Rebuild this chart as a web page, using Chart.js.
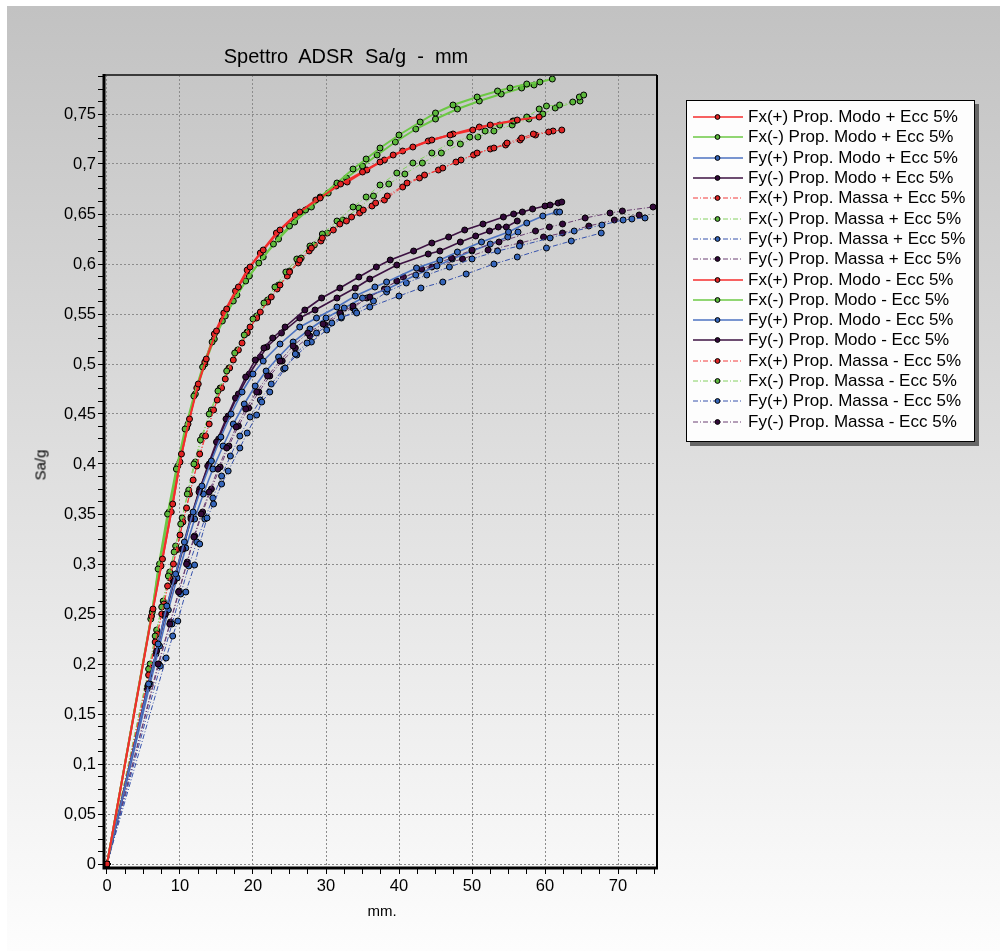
<!DOCTYPE html>
<html>
<head>
<meta charset="utf-8">
<script src="https://cdn.jsdelivr.net/npm/chart.js@4/dist/chart.umd.min.js"></script>
<style>
  body { margin: 0; width: 1000px; height: 951px; position: relative; overflow: hidden; background: #fff;
         font-family: "Liberation Sans", Arial, sans-serif; color: #000; }
  #bg { position: absolute; left: 7px; top: 6px; right: 0; bottom: 0;
        background: linear-gradient(#c2c2c2, #fdfdfd); }
  #chart { position: absolute; left: 0; top: 0; }
  #title { position: absolute; left: 0; width: 692px; top: 45px; text-align: center; font-size: 20px; white-space: pre; }
  #ytitle { position: absolute; left: 40px; top: 465px; font-size: 15px; font-weight: normal; color: #000;
            transform: translate(-50%, -50%) rotate(-90deg); }
  #xtitle { position: absolute; left: 382px; top: 910px; font-size: 15px; transform: translate(-50%, -50%); }
  #legend { position: absolute; left: 686px; top: 100px; width: 287px; height: 334px; background: #fdfdfd;
            border: 1px solid #000; box-shadow: 4px 4px 0 #666; padding-top: 6px; box-sizing: content-box; }
  .row { height: 20.3px; display: flex; align-items: center; font-size: 17px; white-space: nowrap; }
  .row svg { margin-left: 6px; margin-right: 5px; flex: none; }
</style>
</head>
<body>
<div id="bg"></div>
<canvas id="chart" width="692" height="951"></canvas>
<div id="title">Spettro  ADSR  Sa/g  -  mm</div>
<div id="ytitle">Sa/g</div>
<div id="xtitle">mm.</div>
<div id="legend"></div>
<script>
var seriesLabels = [
    'Fx(+) Prop. Modo + Ecc 5%', 'Fx(-) Prop. Modo + Ecc 5%', 'Fy(+) Prop. Modo + Ecc 5%', 'Fy(-) Prop. Modo + Ecc 5%',
    'Fx(+) Prop. Massa + Ecc 5%', 'Fx(-) Prop. Massa + Ecc 5%', 'Fy(+) Prop. Massa + Ecc 5%', 'Fy(-) Prop. Massa + Ecc 5%',
    'Fx(+) Prop. Modo - Ecc 5%', 'Fx(-) Prop. Modo - Ecc 5%', 'Fy(+) Prop. Modo - Ecc 5%', 'Fy(-) Prop. Modo - Ecc 5%',
    'Fx(+) Prop. Massa - Ecc 5%', 'Fx(-) Prop. Massa - Ecc 5%', 'Fy(+) Prop. Massa - Ecc 5%', 'Fy(-) Prop. Massa - Ecc 5%'
];

var xTickLabels = ['0', '10', '20', '30', '40', '50', '60', '70'];
var yTickLabels = ['0', '0,05', '0,1', '0,15', '0,2', '0,25', '0,3', '0,35', '0,4', '0,45', '0,5', '0,55', '0,6', '0,65', '0,7', '0,75'];

// [mm, Sa/g]
var fxPosModoPlus = [[0,0],[6.3,0.255],[7.6,0.305],[9.0,0.36],[10.2,0.41],[11.3,0.445],[12.5,0.48],[13.6,0.505],[15.0,0.533],[16.4,0.555],[18.0,0.577],[19.6,0.597],[21.4,0.614],[23.7,0.634],[26.4,0.652],[29.2,0.666],[32.0,0.680],[35.0,0.692],[37.4,0.702],[39.2,0.709],[41.9,0.717],[44.5,0.724],[47.0,0.729],[50.1,0.734],[52.5,0.739],[56.2,0.744],[59.2,0.747]];
var fxNegModoPlus = [[0,0],[6.2,0.252],[7.0,0.295],[8.3,0.35],[9.5,0.395],[10.7,0.435],[11.9,0.468],[13.1,0.497],[14.4,0.522],[15.8,0.543],[17.3,0.563],[19.0,0.583],[20.8,0.601],[22.8,0.62],[25.0,0.638],[27.2,0.654],[29.2,0.667],[31.5,0.681],[33.7,0.695],[35.5,0.705],[37.4,0.716],[40.0,0.729],[42.9,0.742],[45.0,0.751],[47.4,0.759],[50.7,0.767],[53.5,0.773],[55.2,0.776],[57.5,0.780],[59.3,0.782],[61.0,0.785]];
var fyPosModoPlus = [[0,0],[5.7,0.18],[7.0,0.22],[8.2,0.258],[9.4,0.29],[10.6,0.322],[11.8,0.352],[13.0,0.378],[14.3,0.403],[15.6,0.427],[17.0,0.45],[18.5,0.472],[20.0,0.49],[21.4,0.503],[23.7,0.52],[26.4,0.537],[28.7,0.546],[31.5,0.557],[34.0,0.568],[36.7,0.577],[38.3,0.582],[42.4,0.596],[45.6,0.604],[48.0,0.612],[51.3,0.622],[55.0,0.632],[57.5,0.641],[59.7,0.648],[61.6,0.652],[62.0,0.652]];
var fyNegModoPlus = [[0,0],[5.6,0.178],[6.8,0.213],[8.0,0.25],[9.2,0.283],[10.4,0.315],[11.5,0.345],[12.6,0.372],[13.8,0.398],[15.0,0.422],[16.3,0.445],[17.6,0.466],[19.0,0.487],[20.3,0.504],[21.5,0.516],[22.7,0.526],[24.4,0.537],[27.1,0.554],[29.4,0.566],[31.9,0.576],[34.5,0.587],[36.9,0.597],[38.8,0.604],[42.0,0.613],[44.5,0.621],[46.8,0.627],[49.0,0.634],[51.5,0.640],[54.3,0.647],[55.7,0.650],[56.9,0.652],[58.3,0.655],[60.0,0.658],[60.7,0.659],[61.8,0.661],[62.3,0.662]];
var fxPosMassaPlus = [[0,0],[5.7,0.189],[6.6,0.222],[7.5,0.25],[8.3,0.278],[9.1,0.30],[10.0,0.329],[10.9,0.356],[11.8,0.384],[12.7,0.41],[14.0,0.44],[15.1,0.464],[16.2,0.485],[17.3,0.504],[18.5,0.521],[19.6,0.537],[21.0,0.552],[22.5,0.567],[23.7,0.579],[25.0,0.592],[26.4,0.604],[28.0,0.616],[29.5,0.626],[31.9,0.64],[33.5,0.647],[35.1,0.654],[36.8,0.661],[38.4,0.668],[41.1,0.681],[43.5,0.689],[46.0,0.696],[48.5,0.704],[50.7,0.711],[53.0,0.716],[54.8,0.721],[56.8,0.726],[58.4,0.730],[60.5,0.732],[62.3,0.734]];
var fxNegMassaPlus = [[0,0],[5.7,0.195],[6.6,0.228],[7.5,0.257],[8.4,0.288],[9.2,0.312],[10.1,0.34],[11.0,0.37],[11.9,0.4],[12.8,0.424],[14.0,0.45],[15.2,0.473],[16.4,0.493],[17.5,0.511],[18.8,0.529],[20.0,0.545],[21.5,0.561],[23.0,0.577],[24.5,0.592],[26.0,0.605],[27.8,0.618],[29.5,0.63],[31.5,0.643],[33.7,0.657],[35.5,0.667],[37.4,0.679],[39.7,0.691],[41.9,0.701],[44.5,0.711],[47.0,0.721],[49.7,0.727],[51.8,0.733],[53.8,0.739],[55.8,0.743],[57.5,0.747],[59.2,0.755],[60.2,0.758],[62.0,0.759],[63.8,0.762],[64.7,0.767],[65.3,0.769]];
var fyPosMassaPlus = [[0,0],[8.1,0.206],[9.0,0.228],[9.7,0.243],[10.8,0.272],[12.0,0.299],[12.7,0.32],[13.7,0.346],[14.6,0.36],[15.7,0.38],[16.6,0.393],[18.2,0.416],[19.2,0.431],[20.5,0.449],[21.2,0.462],[22.3,0.472],[24.4,0.496],[25.8,0.51],[27.4,0.521],[28.7,0.531],[30.8,0.541],[32.1,0.547],[34.2,0.551],[36.0,0.557],[40.0,0.568],[43.0,0.576],[46.0,0.582],[49.2,0.590],[53.0,0.600],[56.2,0.607],[60.2,0.616],[63.6,0.623],[67.7,0.631]];
var fyNegMassaPlus = [[0,0],[7.0,0.2],[8.6,0.24],[9.8,0.272],[10.9,0.3],[11.9,0.327],[12.9,0.35],[14.0,0.372],[15.2,0.395],[16.4,0.416],[17.7,0.437],[19.0,0.455],[20.5,0.472],[22.0,0.488],[23.7,0.503],[25.5,0.518],[27.5,0.531],[29.6,0.54],[31.9,0.551],[33.7,0.558],[36.0,0.567],[39.7,0.583],[43.1,0.595],[47.2,0.606],[50.0,0.614],[53.7,0.622],[58.7,0.633],[60.6,0.637],[62.4,0.640],[65.5,0.646],[68.9,0.651],[70.6,0.653],[74.8,0.657]];
var fxPosModoMinus = [[0,0],[6.1,0.248],[7.4,0.298],[8.8,0.352],[10.0,0.402],[11.1,0.44],[12.3,0.476],[13.4,0.502],[14.7,0.53],[16.0,0.551],[17.6,0.573],[19.2,0.594],[21.0,0.611],[23.2,0.631],[25.8,0.649],[28.6,0.664],[31.4,0.678],[32.9,0.682],[35.6,0.694],[38.0,0.704],[40.5,0.713],[44.0,0.723],[47.4,0.730],[51.0,0.737],[55.6,0.743]];
var fxNegModoMinus = [[0,0],[6.0,0.245],[7.2,0.3],[8.5,0.352],[9.7,0.398],[10.9,0.436],[12.1,0.47],[13.4,0.5],[14.7,0.525],[16.2,0.548],[17.8,0.569],[19.5,0.588],[21.4,0.607],[23.5,0.625],[25.7,0.642],[28.0,0.657],[30.3,0.671],[32.8,0.686],[35.0,0.698],[37.0,0.709],[39.5,0.722],[42.3,0.735],[45.0,0.745],[48.0,0.755],[51.0,0.763],[54.0,0.770],[56.8,0.776],[58.5,0.779]];
var fyPosModoMinus = [[0,0],[5.9,0.18],[7.2,0.218],[8.4,0.254],[9.6,0.286],[10.8,0.316],[12.0,0.345],[13.2,0.37],[14.5,0.395],[15.9,0.418],[17.3,0.44],[18.8,0.46],[20.3,0.478],[21.8,0.493],[23.5,0.507],[25.5,0.522],[27.8,0.535],[30.0,0.546],[32.5,0.556],[35.0,0.566],[38.4,0.575],[42.3,0.589],[45.2,0.598],[47.3,0.605],[50.0,0.613],[52.5,0.62],[54.9,0.627],[56.3,0.632]];
var fyNegModoMinus = [[0,0],[5.5,0.175],[6.7,0.21],[7.9,0.248],[9.1,0.282],[10.3,0.315],[11.5,0.347],[12.7,0.375],[14.0,0.40],[15.3,0.425],[16.6,0.448],[18.0,0.47],[19.5,0.49],[21.0,0.507],[21.9,0.517],[23.9,0.531],[26.4,0.546],[28.5,0.554],[31.5,0.566],[34.0,0.576],[36.0,0.585],[39.7,0.599],[44.0,0.610],[45.6,0.613],[48.4,0.622],[50.5,0.628],[52.4,0.633],[53.6,0.637],[54.7,0.637],[56.2,0.643]];
var fxPosMassaMinus = [[0,0],[5.9,0.196],[6.9,0.23],[7.8,0.26],[8.6,0.286],[9.5,0.314],[10.4,0.342],[11.3,0.37],[12.3,0.398],[13.5,0.428],[14.6,0.454],[15.7,0.476],[16.8,0.496],[18.0,0.514],[19.2,0.531],[20.5,0.546],[22.0,0.562],[23.3,0.575],[24.7,0.588],[26.2,0.601],[27.7,0.613],[29.3,0.623],[31.0,0.634],[32.8,0.643],[34.6,0.651],[36.3,0.658],[38.0,0.664],[40.5,0.677],[42.8,0.686],[45.4,0.694],[47.8,0.702],[50.2,0.709],[52.5,0.715],[54.6,0.719],[56.6,0.724],[58.7,0.729],[61.1,0.733]];
var fxNegMassaMinus = [[0,0],[5.9,0.2],[6.8,0.234],[7.7,0.263],[8.6,0.292],[9.4,0.318],[10.3,0.346],[11.2,0.374],[12.1,0.402],[13.1,0.428],[14.3,0.454],[15.5,0.476],[16.7,0.496],[17.9,0.514],[19.2,0.532],[20.5,0.548],[22.0,0.564],[23.5,0.579],[25.0,0.593],[26.6,0.606],[28.4,0.619],[30.2,0.631],[32.3,0.644],[34.5,0.656],[36.5,0.668],[38.6,0.68],[40.8,0.69],[43.2,0.701],[45.8,0.711],[48.4,0.72],[50.8,0.727],[53.0,0.733],[55.5,0.739],[57.8,0.745],[59.7,0.75],[61.4,0.756],[64.8,0.763]];
var fyPosMassaMinus = [[0,0],[7.3,0.198],[8.9,0.24],[10.1,0.27],[11.2,0.298],[12.3,0.322],[13.4,0.345],[14.5,0.366],[15.7,0.388],[16.9,0.408],[18.2,0.428],[19.6,0.447],[21.0,0.464],[22.5,0.48],[24.2,0.495],[26.0,0.509],[28.0,0.522],[30.1,0.534],[32.1,0.546],[34.0,0.553],[36.5,0.563],[38.3,0.572],[41.0,0.581],[43.8,0.589],[46.9,0.597],[50.0,0.605],[53.5,0.613],[56.5,0.618],[60.7,0.626],[64.0,0.633],[67.8,0.639],[70.7,0.644],[71.9,0.645],[73.7,0.646]];
var fyNegMassaMinus = [[0,0],[7.1,0.2],[8.7,0.242],[9.9,0.273],[11.0,0.302],[12.0,0.328],[13.1,0.352],[14.3,0.375],[15.5,0.397],[16.7,0.418],[18.0,0.438],[19.4,0.456],[20.8,0.472],[22.3,0.488],[24.0,0.503],[25.8,0.516],[27.8,0.528],[29.9,0.539],[32.0,0.55],[33.7,0.556],[35.6,0.566],[38.0,0.575],[40.6,0.587],[44.5,0.597],[48.7,0.605],[52.2,0.614],[56.6,0.621],[59.8,0.627],[62.4,0.631],[66.0,0.638],[69.5,0.644],[72.9,0.649]];

var seriesData = [
    fxPosModoPlus, fxNegModoPlus, fyPosModoPlus, fyNegModoPlus,
    fxPosMassaPlus, fxNegMassaPlus, fyPosMassaPlus, fyNegMassaPlus,
    fxPosModoMinus, fxNegModoMinus, fyPosModoMinus, fyNegModoMinus,
    fxPosMassaMinus, fxNegMassaMinus, fyPosMassaMinus, fyNegMassaMinus
];

// colours for Fx(+), Fx(-), Fy(+), Fy(-)
var solidColors = ['#f42c2c', '#6cc845', '#4c72c0', '#3c1242'];
var dashColors = ['#f23a3a', '#84d060', '#3652ac', '#6a3f72'];
var markerColors = ['#e02424', '#5cb83c', '#3566bb', '#33093a'];
var dashDot = [5, 2, 1, 2];

var datasets = seriesData.map(function (pts, i) {
    var k = i % 4;
    var isMassa = Math.floor(i / 4) % 2 === 1;
    return {
        label: seriesLabels[i],
        data: pts.map(function (p) { return {x: p[0], y: p[1]}; }),
        borderColor: isMassa ? dashColors[k] : solidColors[k],
        borderWidth: isMassa ? 1 : (k < 2 ? 2 : 1.6),
        borderDash: isMassa ? dashDot : [],
        backgroundColor: markerColors[k],
        pointBackgroundColor: markerColors[k],
        pointBorderColor: '#000',
        pointBorderWidth: 1,
        pointRadius: 3,
        tension: 0,
        fill: false
    };
});

var frame = {
    id: 'frame',
    afterDatasetsDraw: function (chart) {
        var a = chart.chartArea, ctx = chart.ctx;
        ctx.save();
        ctx.strokeStyle = '#3a3a3a';
        ctx.lineWidth = 2;
        ctx.beginPath();
        ctx.moveTo(a.left, a.top); ctx.lineTo(a.right, a.top);
        ctx.stroke();
        ctx.strokeStyle = '#000';
        ctx.beginPath();
        ctx.moveTo(a.right, a.top); ctx.lineTo(a.right, a.bottom);
        ctx.stroke();
        ctx.lineWidth = 3;
        ctx.beginPath();
        ctx.moveTo(a.left, a.top - 1); ctx.lineTo(a.left, a.bottom);
        ctx.lineTo(a.right + 1, a.bottom);
        ctx.stroke();
        ctx.restore();
    }
};

var tickFont = {family: '"Liberation Sans", Arial, sans-serif', size: 16.5};

var config = {
    type: 'line',
    data: {datasets: datasets},
    options: {
        responsive: false,
        animation: false,
        layout: {padding: {top: 75, right: 35, left: 0, bottom: 0}},
        plugins: {legend: {display: false}, tooltip: {enabled: false}, title: {display: false}},
        scales: {
            x: {
                type: 'linear',
                min: -0.41,
                max: 75.34,
                afterBuildTicks: function (s) {
                    var t = [];
                    for (var k = 0; k <= 30; k++) t.push({value: k * 2.5});
                    s.ticks = t;
                },
                afterFit: function (s) { s.height = 83; },
                ticks: {
                    autoSkip: false, maxRotation: 0, padding: 3, color: '#000', font: tickFont,
                    callback: function (v) {
                        var k = Math.round(v / 2.5);
                        return k % 4 === 0 ? xTickLabels[k / 4] : '';
                    }
                },
                grid: {
                    color: function (c) { return c.index % 4 === 0 ? '#8c8c8c' : 'rgba(0,0,0,0)'; },
                    tickColor: '#000', tickLength: 6, lineWidth: 1
                },
                border: {display: false, dash: [2, 2]}
            },
            y: {
                type: 'linear',
                min: -0.004,
                max: 0.789,
                afterBuildTicks: function (s) {
                    var t = [];
                    for (var k = 0; k <= 63; k++) t.push({value: k * 0.0125});
                    s.ticks = t;
                },
                afterFit: function (s) { s.width = 104; },
                ticks: {
                    autoSkip: false, padding: 2, color: '#000', font: tickFont,
                    callback: function (v) {
                        var k = Math.round(v / 0.0125);
                        return k % 4 === 0 ? yTickLabels[k / 4] : '';
                    }
                },
                grid: {
                    color: function (c) { return c.index % 4 === 0 ? '#8c8c8c' : 'rgba(0,0,0,0)'; },
                    tickColor: '#000', tickLength: 6, lineWidth: 1
                },
                border: {display: false, dash: [2, 2]}
            }
        }
    },
    plugins: [frame]
};

window.onload = function () {
    var ctx = document.getElementById('chart').getContext('2d');
    window.myChart = new Chart(ctx, config);

    // legend
    var legend = document.getElementById('legend');
    datasets.forEach(function (ds) {
        var row = document.createElement('div');
        row.className = 'row';
        var dash = ds.borderDash.length ? ' stroke-dasharray="' + ds.borderDash.join(' ') + '"' : '';
        row.innerHTML = '<svg width="50" height="8"><line x1="0" y1="4" x2="50" y2="4" stroke="' + ds.borderColor +
            '" stroke-width="' + Math.min(ds.borderWidth, 1.6) + '"' + dash + '/><circle cx="24.5" cy="4" r="2.4" fill="' +
            ds.pointBackgroundColor + '" stroke="#000" stroke-width="1"/></svg>';
        var span = document.createElement('span');
        span.textContent = ds.label;
        row.appendChild(span);
        legend.appendChild(row);
    });
};
</script>
</body>
</html>
